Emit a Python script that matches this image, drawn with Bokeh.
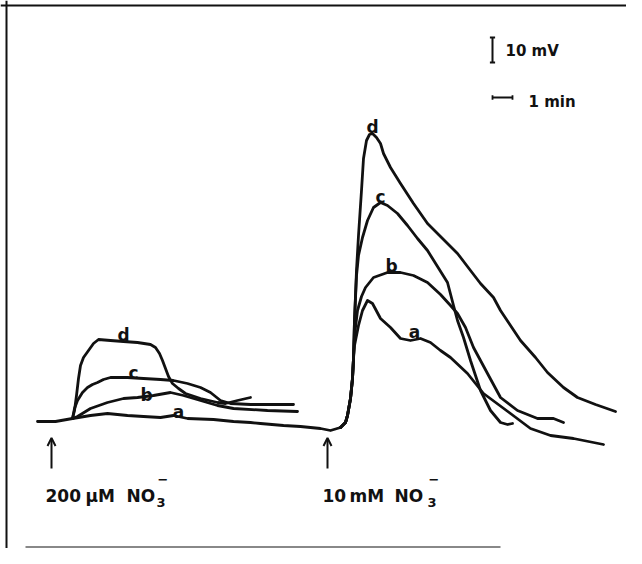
from bokeh.plotting import figure
from bokeh.models import Range1d, Arrow, OpenHead, Span
from bokeh.core.properties import value
from bokeh.embed import file_html
from bokeh.resources import INLINE

# time in minutes after first NO3- addition, potential change in mV (depolarisation up)
# ---- 200 uM NO3- responses ----
t_a1 = [-0.70, 0.20, 1.05, 1.95, 2.80, 3.80, 4.60, 5.45, 6.10, 6.80, 8.10, 9.10,
        9.95, 10.45, 11.60, 12.45, 13.45, 13.95, 14.45]
v_a1 = [0.0, 0.0, 1.2, 2.4, 3.2, 2.4, 2.0, 1.6, 2.4, 1.2, 0.8, 0.0,
        -0.4, -0.8, -1.6, -2.0, -2.8, -3.6, -2.4]

t_b1 = [1.05, 1.30, 1.95, 2.80, 3.60, 4.30, 5.10, 5.95, 6.60, 7.45, 8.30, 9.10, 10.80, 12.30]
v_b1 = [1.2, 2.0, 5.2, 7.6, 9.2, 9.6, 10.4, 11.6, 10.4, 8.4, 6.4, 5.2, 4.4, 4.0]

t_c1 = [1.05, 1.15, 1.30, 1.55, 1.80, 2.05, 2.30, 2.60, 2.95, 3.80, 4.60, 5.45, 6.10, 6.80,
        7.45, 7.95, 8.45, 8.95, 9.95, 10.95, 12.10]
v_c1 = [1.2, 5.2, 8.4, 11.6, 13.6, 14.8, 15.6, 16.8, 17.6, 17.6, 17.2, 16.8, 16.4, 15.2,
        13.6, 11.6, 8.4, 7.2, 6.8, 6.8, 6.8]

t_d1 = [1.05, 1.15, 1.25, 1.35, 1.45, 1.60, 1.85, 2.10, 2.35, 2.95, 3.60, 4.30, 4.95,
        5.20, 5.40, 5.55, 5.70, 5.85, 6.05, 6.35, 6.70, 7.45, 8.30, 8.70, 9.30, 9.95]
v_d1 = [1.2, 4.4, 10.4, 17.2, 22.4, 25.6, 28.4, 31.2, 32.8, 32.4, 32.0, 31.6, 30.8,
        29.6, 27.2, 24.4, 21.2, 18.0, 15.2, 13.2, 11.2, 9.2, 7.6, 7.2, 8.4, 9.6]

# ---- 10 mM NO3- responses (common onset of the rise) ----
t_rise = [14.45, 14.70, 14.80, 14.95, 15.05, 15.10]
v_rise = [-2.4, -0.4, 2.4, 9.2, 17.2, 25.2]

t_a2 = [15.15, 15.35, 15.55, 15.80, 16.05, 16.45, 16.95, 17.45, 17.95, 18.45, 18.95,
        19.45, 19.95, 20.80, 21.60, 22.95, 23.95, 24.95, 26.10, 27.60]
v_a2 = [30.4, 38.4, 44.4, 48.4, 47.2, 41.2, 37.6, 33.2, 32.4, 33.2, 31.6,
        28.4, 25.6, 19.2, 11.2, 3.2, -2.8, -5.6, -6.8, -9.2]

t_b2 = [15.15, 15.30, 15.50, 15.70, 16.10, 16.80, 17.45, 18.10, 18.80, 19.45, 19.95,
        20.30, 20.70, 21.10, 21.80, 22.45, 23.30, 24.30, 25.10, 25.60]
v_b2 = [34.4, 44.4, 50.0, 53.6, 57.6, 59.6, 59.6, 58.4, 55.6, 50.8, 46.4,
        43.2, 37.6, 29.6, 19.2, 9.6, 4.4, 1.2, 1.2, -0.4]

t_c2 = [15.15, 15.25, 15.35, 15.55, 15.80, 16.10, 16.45, 16.80, 17.30, 17.80, 18.30,
        18.80, 19.30, 19.80, 20.10, 20.30, 20.60, 20.95, 21.45, 21.95, 22.45, 22.80, 23.05]
v_c2 = [40.4, 58.4, 66.4, 73.6, 80.4, 85.6, 87.6, 86.4, 83.2, 78.4, 73.2,
        68.4, 62.0, 55.6, 46.4, 40.4, 33.6, 24.4, 12.4, 4.4, -0.4, -1.2, -0.8]

t_d2 = [15.15, 15.25, 15.35, 15.50, 15.60, 15.75, 15.90, 16.05, 16.25, 16.45, 16.60,
        16.95, 17.45, 18.10, 18.80, 19.45, 20.30, 20.95, 21.45, 22.10, 22.45, 22.95,
        23.45, 24.20, 24.80, 25.60, 26.30, 27.20, 28.20]
v_d2 = [40.4, 60.4, 74.4, 92.4, 105.2, 112.4, 114.8, 115.2, 113.6, 111.2, 107.2,
        101.6, 95.2, 87.2, 79.2, 74.0, 67.2, 60.4, 55.2, 49.6, 44.4, 38.4,
        32.4, 25.6, 19.6, 13.6, 9.6, 6.8, 4.0]

# trace labels
lab_text = ["d", "c", "b", "a", "d", "c", "b", "a"]
lab_t = [3.60, 4.10, 4.75, 6.35, 16.05, 16.45, 17.00, 18.15]
lab_v = [34.8, 19.4, 10.8, 4.0, 118.0, 90.0, 62.4, 36.0]

# additions of nitrate
add_t = [0.0, 13.8]
add_num = ["200", "10"]
add_num_t = [-0.30, 13.55]
add_unit = ["\u00b5M", "mM"]
add_unit_t = [1.70, 14.90]
add_no_t = [3.75, 17.15]
add_sub_t = [5.25, 18.80]
label_v = -29.6

# scale bars
sb_t = 22.05
sb_v = 143.6
sb_mv = 10.0
sb_min = 1.0
sb_min_v = 129.6

p = figure(width=626, height=548, x_range=Range1d(-2.55, 28.75), y_range=Range1d(-50.8, 168.4),
           output_backend="svg", toolbar_location=None, min_border=0,
           x_axis_location=None, y_axis_location=None)
p.grid.visible = False
p.outline_line_color = None
p.background_fill_color = "white"
p.border_fill_color = "white"

lw = 2.8
col = "#111111"
for tt, vv in [(t_a1, v_a1), (t_b1, v_b1), (t_c1, v_c1), (t_d1, v_d1)]:
    p.line(tt, vv, line_color=col, line_width=lw, line_join="round", line_cap="round")
for tt, vv in [(t_a2, v_a2), (t_b2, v_b2), (t_c2, v_c2), (t_d2, v_d2)]:
    p.line(t_rise + tt, v_rise + vv, line_color=col, line_width=lw, line_join="round", line_cap="round")

font = value("DejaVu Sans")
p.text(x=lab_t, y=lab_v, text=lab_text, text_font=font, text_font_style="bold",
       text_font_size="17px", text_align="center", text_baseline="alphabetic", text_color=col)

# arrows marking additions
for t0 in add_t:
    p.add_layout(Arrow(end=OpenHead(size=8, line_width=2, line_color=col),
                       x_start=t0, y_start=-18.8, x_end=t0, y_end=-6.6,
                       line_width=2, line_color=col))

common = dict(text_font=font, text_font_style="bold", text_align="left",
              text_baseline="alphabetic", text_color=col)
p.text(x=add_num_t, y=[label_v] * 2, text=add_num, text_font_size="17px", **common)
p.text(x=add_unit_t, y=[label_v] * 2, text=add_unit, text_font_size="17px", **common)
p.text(x=add_no_t, y=[label_v] * 2, text=["NO", "NO"], text_font_size="17px", **common)
p.text(x=add_sub_t, y=[label_v - 2.8] * 2, text=["3", "3"], text_font_size="13px", **common)
p.text(x=[t + 0.05 for t in add_sub_t], y=[label_v + 6.6] * 2, text=["\u2212", "\u2212"],
       text_font_size="13px", **common)

# scale bars
p.segment(x0=[sb_t, sb_t - 0.13, sb_t - 0.13], y0=[sb_v, sb_v, sb_v + sb_mv],
          x1=[sb_t, sb_t + 0.13, sb_t + 0.13], y1=[sb_v + sb_mv, sb_v, sb_v + sb_mv],
          line_color=col, line_width=2)
p.segment(x0=[sb_t, sb_t, sb_t + sb_min], y0=[sb_min_v, sb_min_v - 0.9, sb_min_v - 0.9],
          x1=[sb_t + sb_min, sb_t, sb_t + sb_min], y1=[sb_min_v, sb_min_v + 0.9, sb_min_v + 0.9],
          line_color=col, line_width=1.8)
p.text(x=[sb_t + 0.65, sb_t + 1.8], y=[148.4, 128.0], text=["10 mV", "1 min"],
       text_font_size="15px", **common)

# frame of the original figure
p.add_layout(Span(location=166.4, dimension="width", line_color=col, line_width=2))
p.add_layout(Span(location=-2.25, dimension="height", line_color=col, line_width=2))
p.segment(x0=[-1.3], y0=[-50.2], x1=[22.45], y1=[-50.2], line_color="#888888", line_width=2)

open("out.html", "w").write(file_html(p, INLINE))
